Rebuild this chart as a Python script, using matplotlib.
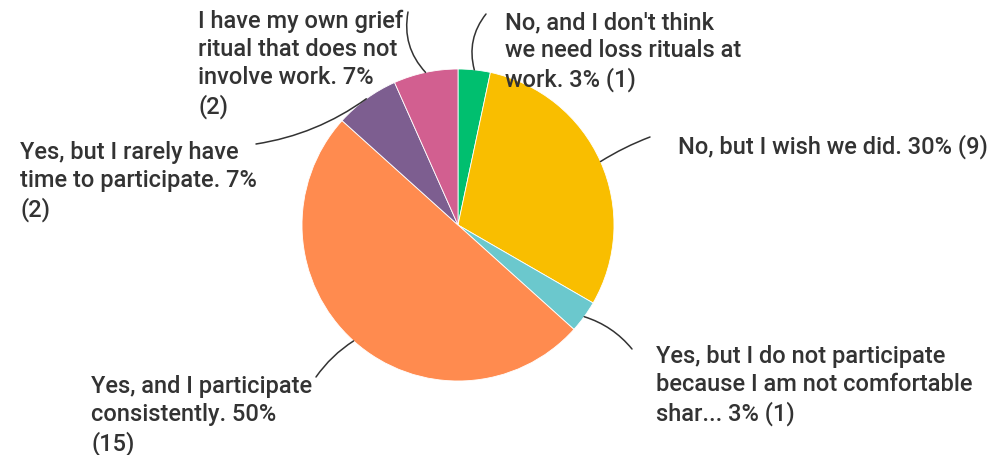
import numpy as np
import matplotlib
matplotlib.use("Agg")
import matplotlib.pyplot as plt

# Survey responses (counts), drawn clockwise from 12 o'clock
labels = [
    "No, and I don't think\nwe need loss rituals at\nwork. 3% (1)",
    "No, but I wish we did. 30% (9)",
    "Yes, but I do not participate\nbecause I am not comfortable\nshar... 3% (1)",
    "Yes, and I participate\nconsistently. 50%\n(15)",
    "Yes, but I rarely have\ntime to participate. 7%\n(2)",
    "I have my own grief\nritual that does not\ninvolve work. 7%\n(2)",
]
counts = [1, 9, 1, 15, 2, 2]
colors = ["#00BF6F", "#F9BE00", "#6BC8CD", "#FF8B4F", "#7D5E90", "#D25F90"]

W, H = 997, 455
fig = plt.figure(figsize=(W / 100, H / 100), dpi=100)
ax = fig.add_axes([0, 0, 1, 1])

cx, cy, r = 458, H - 225, 156
wedges, _ = ax.pie(counts, colors=colors, startangle=90, counterclock=False,
                   center=(cx, cy), radius=r, frame=True,
                   wedgeprops=dict(linewidth=0.6, edgecolor="white"))
ax.set_xlim(0, W)
ax.set_ylim(0, H)
ax.set_aspect("equal")
ax.axis("off")

# label anchor (left x, top y in pixels), leader end (pixels), curvature
layout = [
    ((505, 11), (486, 14), 0.25),
    ((678, 134), (650, 137), 0.05),
    ((656, 345), (632, 349), 0.15),
    ((91, 375), (316, 377), -0.1),
    ((20, 141), (256, 144), 0.12),
    ((198, 10), (408, 12), 0.25),
]

font = dict(family=["Roboto", "DejaVu Sans"], fontsize=17, fontweight="medium",
            color="#333333", linespacing=1.27)

for w, (txt_pos, end, rad) in zip(wedges, layout):
    mid = np.deg2rad((w.theta1 + w.theta2) / 2)
    start = (cx + r * np.cos(mid), cy + r * np.sin(mid))
    ax.annotate("", xy=start, xytext=(end[0], H - end[1]),
                arrowprops=dict(arrowstyle="-", color="#333333", lw=1.1,
                                connectionstyle=f"arc3,rad={rad}",
                                shrinkA=0, shrinkB=0))

for lab, (txt_pos, end, rad) in zip(labels, layout):
    ax.text(txt_pos[0], H - txt_pos[1], lab, ha="left", va="top", **font)

fig.savefig("out.png", dpi=100, facecolor="white")
